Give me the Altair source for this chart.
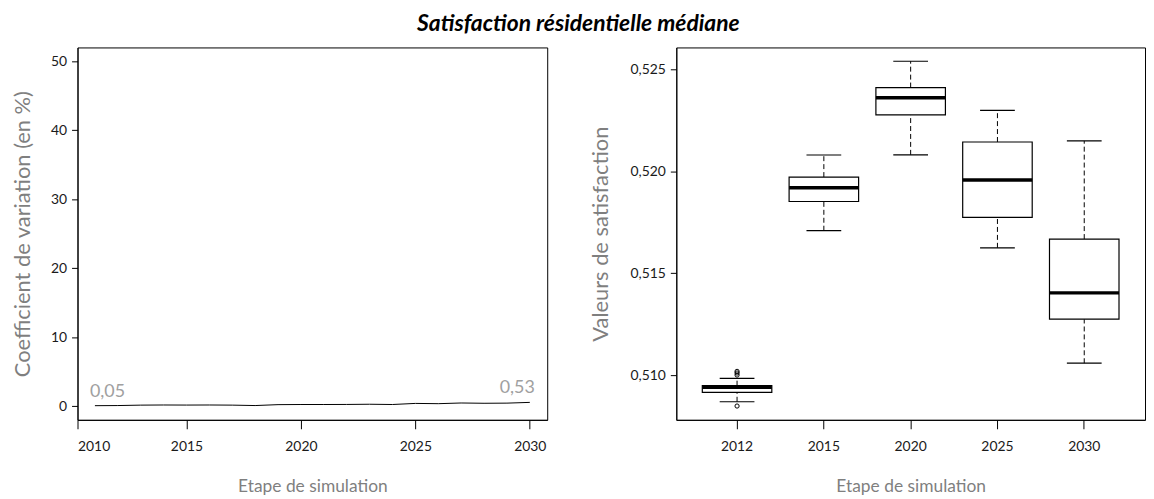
import altair as alt
import pandas as pd

FONT = "Lato"

# ---- left panel: coefficient of variation (%) per simulation year ----
line_years = list(range(2011, 2031))
cv_values = [0.05, 0.07, 0.13, 0.15, 0.14, 0.15, 0.13, 0.07, 0.20, 0.22,
             0.22, 0.23, 0.26, 0.22, 0.38, 0.34, 0.44, 0.40, 0.42, 0.53]
cv_labels = ["0,05", "0,53"]
left_ticks = [2015, 2020, 2025, 2030]
left_y_ticks = [0, 10, 20, 30, 40, 50]
left_y_range = [0, 50]

# ---- right panel: boxplots of satisfaction values ----
box_years = ["2012", "2015", "2020", "2025", "2030"]
whisk_lo = [0.50869, 0.51708, 0.52080, 0.51624, 0.51058]
q1 = [0.50915, 0.51851, 0.52276, 0.51773, 0.51274]
median = [0.50940, 0.51918, 0.52360, 0.51956, 0.51403]
q3 = [0.50948, 0.51971, 0.52410, 0.52143, 0.51667]
whisk_hi = [0.50984, 0.52079, 0.52539, 0.52298, 0.52148]
out_years = ["2012", "2012", "2012", "2012"]
out_values = [0.51000, 0.51010, 0.51018, 0.50848]
right_y_ticks = [0.510, 0.515, 0.520, 0.525]

# R-style 4% axis extension
def r_range(lo, hi):
    pad = 0.04 * (hi - lo)
    return [lo - pad, hi + pad]

x_dom = r_range(min(line_years), max(line_years))
yL_dom = r_range(*left_y_range)
yR_dom = r_range(min(whisk_lo + out_values), max(whisk_hi + out_values))

line_df = pd.DataFrame({"year": line_years, "cv": cv_values})
lab_df = pd.DataFrame({
    "year": [line_years[0], line_years[-1]],
    "cv": [cv_values[0], cv_values[-1]],
    "label": cv_labels,
    "side": ["first", "last"],
})
box_df = pd.DataFrame({"year": box_years, "lo": whisk_lo, "q1": q1,
                       "med": median, "q3": q3, "hi": whisk_hi})
out_df = pd.DataFrame({"year": out_years, "v": out_values})

TITLE_COLOR = "#7f7f7f"
LABEL_COLOR = "#1a1a1a"

x_left = alt.X("year:Q",
               scale=alt.Scale(domain=x_dom, nice=False, zero=False),
               axis=alt.Axis(values=[x_dom[0]] + left_ticks, format="d",
                             title="Etape de simulation", titlePadding=24,
                             tickSize=9, labelPadding=11))
y_left = alt.Y("cv:Q",
               scale=alt.Scale(domain=yL_dom, nice=False, zero=False),
               axis=alt.Axis(values=left_y_ticks, format="d",
                             title="Coefficient de variation (en %)",
                             titlePadding=16, tickSize=6, labelPadding=5))

left_line = alt.Chart(line_df).mark_line(color="black", strokeWidth=1).encode(
    x=x_left, y=y_left)
lab_base = alt.Chart(lab_df).encode(x=x_left, y=y_left, text="label:N")
lab_first = lab_base.transform_filter(alt.datum.side == "first").mark_text(
    align="left", baseline="alphabetic", dx=-5, dy=-9, font=FONT,
    fontSize=18, color="#a0a0a0")
lab_last = lab_base.transform_filter(alt.datum.side == "last").mark_text(
    align="right", baseline="alphabetic", dx=5, dy=-9, font=FONT,
    fontSize=18, color="#a0a0a0")

left = alt.layer(left_line, lab_first, lab_last).properties(width=473, height=375)

x_right = alt.X("year:N",
                scale=alt.Scale(domain=box_years, paddingInner=0, paddingOuter=0.2),
                axis=alt.Axis(title="Etape de simulation", labelAngle=0,
                              titlePadding=24, tickSize=9, labelPadding=11))

axis_r = alt.Axis(values=right_y_ticks,
                  labelExpr="replace(format(datum.value, '.3f'), '.', ',')",
                  title="Valeurs de satisfaction", titlePadding=18,
                  tickSize=6, labelPadding=5)
scale_r = alt.Scale(domain=yR_dom, nice=False, zero=False)

def yr(field):
    return alt.Y(f"{field}:Q", scale=scale_r, axis=axis_r)

base = alt.Chart(box_df).encode(x=x_right)
whisk_low = base.mark_rule(color="black", strokeWidth=1, strokeDash=[5, 3]).encode(
    y=yr("lo"), y2="q1:Q")
whisk_high = base.mark_rule(color="black", strokeWidth=1, strokeDash=[5, 3]).encode(
    y=yr("q3"), y2="hi:Q")
cap_low = base.mark_tick(color="black", size=35, thickness=1.2, opacity=1).encode(
    y=yr("lo"))
cap_high = base.mark_tick(color="black", size=35, thickness=1.2, opacity=1).encode(
    y=yr("hi"))
boxes = base.mark_bar(size=70, fill="white", stroke="black", strokeWidth=1.2,
                      opacity=1).encode(y=yr("q1"), y2="q3:Q")
medians = base.mark_tick(color="black", size=70, thickness=3.5, opacity=1).encode(
    y=yr("med"))
outliers = alt.Chart(out_df).mark_point(shape="circle", filled=False, color="black",
                                        size=18, strokeWidth=1, opacity=1).encode(
    x=x_right, y=yr("v"))

right = alt.layer(whisk_low, whisk_high, cap_low, cap_high, boxes, medians,
                  outliers).properties(width=472, height=375)

chart = alt.hconcat(left, right, spacing=130, bounds="flush").properties(
    title=alt.TitleParams("Satisfaction résidentielle médiane", font=FONT,
                          fontSize=23, fontWeight="bold", fontStyle="italic",
                          anchor="middle", color="black", offset=11),
    padding={"left": 3, "top": 3, "right": 0, "bottom": 0},
).configure_view(
    stroke="black", strokeWidth=1
).configure_axis(
    grid=False, domainColor="black", tickColor="black", domainWidth=1,
    tickWidth=1, labelFont=FONT, labelFontSize=14, labelColor=LABEL_COLOR,
    titleFont=FONT, titleFontSize=22, titleFontWeight="normal",
    titleColor=TITLE_COLOR
).configure_axisX(titleFontSize=17.5)

chart.save("out.html", embed_options={"renderer": "svg", "actions": False})
